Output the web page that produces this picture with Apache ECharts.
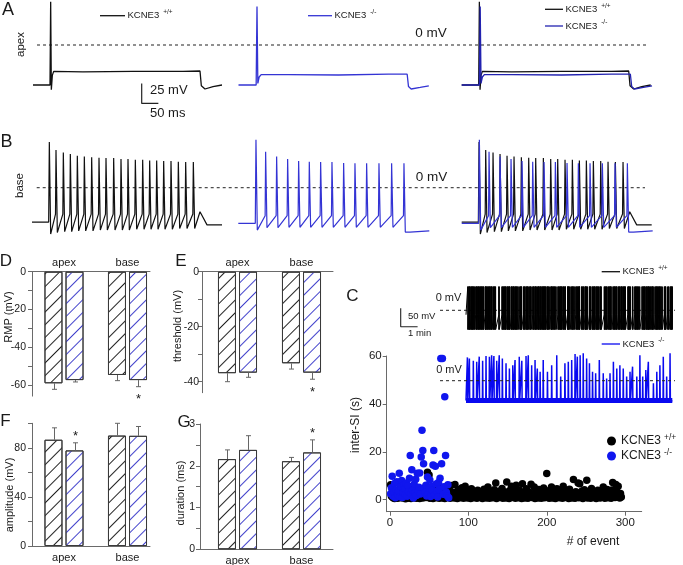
<!DOCTYPE html>
<html><head><meta charset="utf-8">
<script src="https://cdn.jsdelivr.net/npm/echarts@6.0.0/dist/echarts.min.js"></script>
<style>html,body{margin:0;padding:0;background:#fff;}#chart{width:683px;height:565px;}</style>
</head><body><div id="chart"></div>
<script>
// ======================= DATA =======================
// A – apex cells: single AP evoked by a current step (time ms, membrane potential mV)
const apexWT_t = [0, 51, 53, 55, 58, 62, 150, 300, 450, 501, 505, 516, 540, 567];
const apexWT_v = [-50, -50, 54, -56, -38, -33, -33.5, -33, -33, -32.5, -51, -55, -52, -50];
const apexKO_t = [0, 53, 55.5, 58, 62, 68, 150, 300, 450, 506, 510, 518, 545, 571];
const apexKO_v = [-50, -50, 48, -48, -40, -37, -37, -37.5, -36.5, -36.5, -52, -55, -53, -51];

// B – base cells: repetitive firing (spike times ms, peaks / troughs mV)
const baseWT_spikeT = [52, 72, 94, 115, 136, 157, 179, 201, 222, 245, 267, 288, 310, 332, 353, 374, 395, 417, 439, 461, 484];
const baseWT_peak   = [57, 47, 44, 42, 40, 39, 38, 37.5, 37, 37, 36, 36, 35, 35, 34, 34, 33.5, 33.5, 32.5, 32, 32];
const baseWT_trough = [-58, -56, -55, -55, -54, -54, -54, -53, -53, -53, -53, -53, -52, -52, -52, -52, -52, -52, -51, -51, -51];
const baseWT_rest = -43, baseWT_thr = -33;
const baseWT_tailT = [504, 525, 570], baseWT_tailV = [-30, -46.5, -46.5];
const baseKO_spikeT = [53, 82, 115, 148, 181, 213, 247, 281, 316, 350, 385, 422, 460, 497];
const baseKO_peak   = [60, 45, 39, 36, 33.5, 32.5, 32, 32, 31, 30.5, 30.5, 30.5, 30.5, 30.5];
const baseKO_trough = [-53, -50, -50, -49.5, -49.5, -49.5, -49.5, -49.5, -49.5, -49.5, -49.5, -49.5, -49.5, -55.5];
const baseKO_rest = -44.5, baseKO_thr = -35;
const baseKO_tailT = [515, 573], baseKO_tailV = [-55.5, -54];

// C – inter-spike intervals (s) per event
const wtISI = [
 6.2,1.5,3.1,0.8,2.4,0.5,4.0,1.2,2.8,0.6,3.5,1.9,0.9,5.1,2.2,0.7,3.8,1.4,2.6,0.4,
 1.8,4.4,0.6,2.9,1.1,3.3,0.5,2.0,5.6,1.3,0.8,3.0,2.1,0.6,4.2,1.6,2.7,0.5,3.6,1.0,
 2.3,0.7,4.8,1.5,3.1,0.9,2.5,11.5,1.2,10.3,0.6,2.9,1.7,3.9,0.5,2.2,1.4,4.5,0.8,2.6,
 1.1,3.4,0.6,2.0,5.2,1.3,0.7,3.2,2.4,0.5,1.8,4.1,0.9,2.7,1.5,3.6,0.6,5.9,2.2,1.0,
 3.0,0.7,6.4,1.9,2.8,0.5,4.3,1.2,3.5,0.8,2.1,5.0,1.6,0.6,3.2,5.6,1.1,2.5,0.7,3.9,
 1.4,2.0,0.5,4.6,2.9,1.2,0.8,3.4,1.7,2.3,0.6,4.0,1.3,2.7,0.9,3.1,1.8,0.5,2.4,4.4,
 1.0,2.6,0.7,3.7,5.3,1.5,0.6,2.9,1.9,3.3,0.8,2.1,4.2,1.2,7.0,0.5,2.8,1.6,3.5,0.9,
 2.3,1.1,4.7,0.6,2.5,1.8,3.2,0.7,7.4,1.4,2.0,0.5,3.8,1.6,5.6,0.9,2.6,1.2,3.4,0.6,
 6.0,1.7,2.9,0.8,4.1,1.3,2.2,0.5,6.7,1.9,3.0,0.7,2.4,4.6,1.1,0.6,3.3,1.5,2.7,6.5,
 0.9,2.0,1.4,5.3,0.5,3.6,1.8,2.5,0.7,4.3,1.2,2.8,0.6,3.2,1.6,4.9,0.8,2.3,1.0,10.9,
 1.5,3.7,0.6,2.6,1.9,5.3,0.7,3.1,1.3,2.2,0.5,4.0,4.6,1.7,2.9,0.8,3.5,1.1,2.4,0.6,
 5.6,1.4,2.7,0.9,3.8,1.6,2.1,0.5,4.4,1.2,3.0,0.7,2.5,8.4,1.8,0.6,3.3,1.3,2.8,7.0,
 0.8,6.7,2.2,1.5,3.6,0.5,2.0,4.2,1.1,2.9,8.1,0.7,3.4,1.7,2.3,0.6,4.7,1.2,2.6,0.9,
 3.1,1.9,0.5,2.7,4.0,1.4,3.5,0.7,2.2,1.0,3.8,5.3,1.6,0.6,2.9,1.3,4.3,0.8,2.4,1.8,
 3.2,0.6,4.1,7.2,1.5,2.7,0.9,6.4,3.6,1.2,5.6,2.0,0.7,2.6,1.1];
const koISI = [
 2.5,5.0,9.8,1.5,3.2,6.8,0.8,4.1,7.5,2.0,3.6,11.0,1.2,5.5,8.0,0.9,3.0,6.2,4.5,2.2,
 7.0,1.4,5.8,3.3,9.0,18.5,2.6,12.5,4.0,0.7,6.5,2.9,8.5,1.8,11.0,3.7,5.2,11.2,2.4,17.8,
 29.0,20.5,15.0,4.6,3.0,6.0,1.6,9.5,2.7,4.8,8.2,1.3,5.5,3.9,14.5,20.5,2.0,14.0,6.6,3.5,
 1.1,7.2,4.3,9.0,59.0,15.0,59.0,2.3,5.4,43.0,18.5,3.1,1.7,6.3,0.8];

// C – KCNE3-/- example trace: spike times (s) and peak potentials (mV)
const koTraceSpikeT = [5,12,26,38,47,59,71,83,91,99,109,118,129,142,154,166,174,189,198,213,221,233,245,253,263,274,289,304,322,336,351,363,375,387,395,405,416,428,438,449,460,473,487,499,511,523,535,546,558,570,582,591,606,617,627,638,647,665,677,688,700,712,724];
const koTraceSpikePeak = [63,60,54,51,65,54,67,65,69,67,54,69,60,47,33,42,56,65,54,67,69,42,56,33,24,56,24,42,69,11,47,51,56,72,65,69,74,60,47,24,20,56,20,6,20,51,33,42,33,11,24,38,11,69,11,29,51,-7,24,42,65,11,74];
const cWT_peak = 64, cWT_trough = -52, cWT_thr = -12, cKO_rest = -53.5;

// D–G – mean ± SEM (categories apex / base)
const barCats = ['apex', 'base'];
const rmpWT = [-59.2, -54.8], rmpWT_err = [3.2, 3.0];
const rmpKO = [-57.5, -57.5], rmpKO_err = [1.0, 3.5];
const rmpSig = [false, true];
const thrWT = [-36.9, -33.3], thrWT_err = [3.1, 2.1];
const thrKO = [-36.7, -36.7], thrKO_err = [1.7, 2.4];
const thrSig = [false, true];
const ampWT = [86.6, 90.0], ampWT_err = [9.7, 10.0];
const ampKO = [77.9, 89.8], ampKO_err = [6.2, 7.6];
const ampSig = [true, false];
const durWT = [2.16, 2.11], durWT_err = [0.22, 0.09];
const durKO = [2.38, 2.32], durKO_err = [0.34, 0.30];
const durSig = [false, true];

// ======================= LAYOUT / STYLE =======================
const FONT = '"Liberation Sans", Arial, Helvetica, sans-serif';
const TXT = '#1a1a1a', AXIS = '#6a6a6a';
const BLACK = '#111', BLUE_TR = '#3434d4', BLUE_C = '#0a0af0', BLUE_SC = '#1016ee';
const MS_PER_PX = 3, MV_PER_PX = 1.25;           // A/B: 50 ms = 16.7 px, 25 mV = 20 px
const A_OFF_PX = [33, 238.5, 461.7], B_OFF_PX = [32, 238.3, 461.7];
const A_DASH_PX = [37, 647], B_DASH_PX = [36.7, 645];
const C_START = 466, C_W = 206.3, C_MV_PER_PX = 50 / 18.5;   // trace starts at x=466
const C_GRID_L = 395, C_GRID_R = 680;
const cDur = wtISI.reduce((a, b) => a + b, 0);
const C_S_PER_PX = cDur / C_W;
const cX = px => (px - C_START) * C_S_PER_PX;
const E_LEFT = 202, G_LEFT = 200;

function shifted(t, v, offPx) { return t.map((ti, i) => [ti + offPx * MS_PER_PX, v[i]]); }
function train(spT, pk, tr, rest, thr, tailT, tailV, offPx) {
  const o = offPx * MS_PER_PX, d = [[o, rest]];
  spT.forEach((s, i) => { d.push([o + s - (i ? 1.5 : 2), i ? thr : rest], [o + s, pk[i]], [o + s + 4, tr[i]]); });
  tailT.forEach((t, i) => d.push([o + t, tailV[i]]));
  return d;
}
function lineS(g, data, color, width, extra) {
  return Object.assign({ type: 'line', xAxisIndex: g, yAxisIndex: g, data, symbol: 'none', silent: true,
    animation: false, lineStyle: { color, width }, z: 3 }, extra || {});
}
function dashS(g, x0, x1, z) {
  return lineS(g, [[x0, 0], [x1, 0]], '#222', 1, { lineStyle: { color: '#222', width: 1, type: [3, 3] }, z });
}

// C traces
let tc = 0; const cWTdata = [[0, cWT_thr]];
wtISI.forEach(isi => { tc += isi; cWTdata.push([tc - 0.12, cWT_thr], [tc, cWT_peak], [tc + 0.3, cWT_trough]); });
const cKOdata = [[0, cKO_rest]];
koTraceSpikeT.forEach((s, i) => { cKOdata.push([s - 0.8, cKO_rest], [s, koTraceSpikePeak[i]], [s + 1.2, cKO_rest - 4], [s + 2.5, cKO_rest]); });
cKOdata.push([cDur, cKO_rest]);

// Bars
function barPair(g, wt, ko) {
  const mk = (name, vals, hatch) => ({ type: 'bar', name, xAxisIndex: g, yAxisIndex: g, barWidth: 18, barGap: '17%',
    data: vals.map((v, i) => [i, v]), silent: true, animation: false, z: 2,
    itemStyle: { color: '#fff', borderColor: '#3a3a3a', borderWidth: 1,
      decal: { symbol: 'rect', symbolSize: 1, color: hatch, dashArrayX: [1, 0], dashArrayY: [1, 8], rotation: -Math.PI / 4 } } });
  return [mk('wt' + g, wt, '#222'), mk('ko' + g, ko, '#4242cc')];
}
function errS(g, means, errs, sig, offPx) {
  return { type: 'custom', xAxisIndex: g, yAxisIndex: g, silent: true, animation: false, z: 4,
    data: means.map((m, i) => [i, m, errs[i], sig[i] ? 1 : 0]),
    renderItem(params, api) {
      const x = api.value(0), m = api.value(1), e = api.value(2), s = api.value(3);
      const dir = m < 0 ? -1 : 1;
      const a = api.coord([x, m]), b = api.coord([x, m + dir * e]);
      const cx = Math.round(a[0] + offPx) + 0.5;
      const ch = [
        { type: 'line', shape: { x1: cx, y1: a[1], x2: cx, y2: b[1] }, style: { stroke: '#666', lineWidth: 1 } },
        { type: 'line', shape: { x1: cx - 2.5, y1: b[1], x2: cx + 2.5, y2: b[1] }, style: { stroke: '#666', lineWidth: 1 } }];
      if (s) {
        const sy = b[1] + (dir < 0 ? 10 : -9) + 3;
        ch.push({ type: 'text', x: cx, y: sy, style: { text: '*', fill: TXT, font: '13px ' + FONT, align: 'center', verticalAlign: 'middle' } });
      }
      return { type: 'group', children: ch };
    } };
}

const hiddenAxis = (g, min, max) => ({ type: 'value', gridIndex: g, min, max, show: false });
function barX(g, min, max, pos, margin) {
  return { type: 'value', gridIndex: g, min, max, position: pos,
    axisLine: { show: true, onZero: false, lineStyle: { color: AXIS, width: 1 } }, axisTick: { show: false },
    splitLine: { show: false },
    axisLabel: { customValues: [0, 1], formatter: v => barCats[v], margin, fontSize: 11, color: TXT, fontFamily: FONT } };
}
function barY(g, min, max, ticks, labels, margin) {
  return { type: 'value', gridIndex: g, min, max,
    axisLine: { show: true, onZero: false, lineStyle: { color: AXIS, width: 1 } },
    axisTick: { show: true, customValues: ticks, length: 4, lineStyle: { color: AXIS } },
    splitLine: { show: false },
    axisLabel: { customValues: labels, margin: margin || 6, fontSize: 10.5, color: TXT, fontFamily: FONT } };
}

function txt(x, y, text, size, extra) {
  const e = { type: 'text', x, y, silent: true, z: 100,
    style: { text, fill: TXT, font: size + 'px ' + FONT, align: 'center', verticalAlign: 'middle' } };
  if (extra) { if (extra.style) Object.assign(e.style, extra.style); if (extra.rotation) e.rotation = extra.rotation; }
  return e;
}
function legendItem(x1, x2, y, color, sup, size) {
  return [
    { type: 'line', silent: true, z: 100, shape: { x1, y1: y, x2, y2: y }, style: { stroke: color, lineWidth: 1.3 } },
    { type: 'text', x: x2 + 2.5, y, silent: true, z: 100,
      style: { text: '{a|KCNE3}{s|' + sup + '}', align: 'left', verticalAlign: 'middle',
        rich: { a: { fontSize: size, fontFamily: FONT, fill: TXT, lineHeight: 14 },
                s: { fontSize: 6.5, fontFamily: FONT, fill: TXT, lineHeight: 14, verticalAlign: 'top', padding: [0, 0, 0, 4] } } } }];
}

const series = [
  // Row A
  dashS(0, A_DASH_PX[0] * MS_PER_PX, A_DASH_PX[1] * MS_PER_PX, 1),
  lineS(0, shifted(apexWT_t, apexWT_v, A_OFF_PX[0]), BLACK, 1.3),
  lineS(0, shifted(apexKO_t, apexKO_v, A_OFF_PX[1]), BLUE_TR, 1.3),
  lineS(0, shifted(apexWT_t, apexWT_v, A_OFF_PX[2]), BLACK, 1.3),
  lineS(0, shifted(apexKO_t, apexKO_v, A_OFF_PX[2]), '#2222b0', 1.3),
  lineS(0, [[141.7 * MS_PER_PX, -48], [141.7 * MS_PER_PX, -48 - 25], [141.7 * MS_PER_PX + 50, -48 - 25]], '#222', 1.2),
  // Row B
  dashS(1, B_DASH_PX[0] * MS_PER_PX, B_DASH_PX[1] * MS_PER_PX, 1),
  lineS(1, train(baseWT_spikeT, baseWT_peak, baseWT_trough, baseWT_rest, baseWT_thr, baseWT_tailT, baseWT_tailV, B_OFF_PX[0]), BLACK, 1.2),
  lineS(1, train(baseKO_spikeT, baseKO_peak, baseKO_trough, baseKO_rest, baseKO_thr, baseKO_tailT, baseKO_tailV, B_OFF_PX[1]), BLUE_TR, 1.2),
  lineS(1, train(baseWT_spikeT, baseWT_peak, baseWT_trough, baseWT_rest, baseWT_thr, baseWT_tailT, baseWT_tailV, B_OFF_PX[2]), BLACK, 1.2),
  lineS(1, train(baseKO_spikeT, baseKO_peak, baseKO_trough, baseKO_rest, baseKO_thr, baseKO_tailT, baseKO_tailV, B_OFF_PX[2]), BLUE_TR, 1.2),
  // Row C traces
  dashS(2, cX(440), cX(675), 1),
  lineS(2, cWTdata, '#000', 1, { z: 3 }),
  lineS(2, [[cX(400.7), 5.4], [cX(400.7), 5.4 - 50], [cX(400.7) + 60, 5.4 - 50]], '#222', 1.1),
  lineS(3, [[0, cKO_rest], [cDur, cKO_rest]], BLUE_C, 5, { z: 2 }),
  lineS(3, cKOdata, BLUE_C, 1.5, { z: 3 }),
  dashS(3, cX(440), cX(675), 5),
  // D–G bars
  ...barPair(4, rmpWT, rmpKO), errS(4, rmpWT, rmpWT_err, [false, false], -10.5), errS(4, rmpKO, rmpKO_err, rmpSig, 10.5),
  ...barPair(5, thrWT, thrKO), errS(5, thrWT, thrWT_err, [false, false], -10.5), errS(5, thrKO, thrKO_err, thrSig, 10.5),
  ...barPair(6, ampWT, ampKO), errS(6, ampWT, ampWT_err, [false, false], -10.5), errS(6, ampKO, ampKO_err, ampSig, 10.5),
  ...barPair(7, durWT, durKO), errS(7, durWT, durWT_err, [false, false], -10.5), errS(7, durKO, durKO_err, durSig, 10.5),
  // C scatter
  { type: 'scatter', name: 'KCNE3 +/+', xAxisIndex: 8, yAxisIndex: 8, data: wtISI.map((v, i) => [i + 1, v]),
    symbolSize: 7.5, itemStyle: { color: '#000', opacity: 1 }, silent: true, animation: false, z: 3 },
  { type: 'scatter', name: 'KCNE3 -/-', xAxisIndex: 8, yAxisIndex: 8, data: koISI.map((v, i) => [i + 1, v]),
    symbolSize: 7.5, itemStyle: { color: BLUE_SC, opacity: 1 }, silent: true, animation: false, z: 4 }
];

const grids = [
  { left: 0, top: 0, width: 683, height: 125 },
  { left: 0, top: 130, width: 683, height: 130 },
  { left: C_GRID_L, top: 268, width: C_GRID_R - C_GRID_L, height: 72 },
  { left: C_GRID_L, top: 340, width: C_GRID_R - C_GRID_L, height: 72 },
  { left: 32, top: 271.7, width: 118, height: 124.4 },
  { left: E_LEFT, top: 271.7, width: 333 - E_LEFT, height: 121 },
  { left: 32, top: 423.3, width: 118, height: 122.7 },
  { left: G_LEFT, top: 424, width: 333 - G_LEFT, height: 125.3 },
  { left: 386.7, top: 356, width: 255, height: 155.7 }
].map(g => Object.assign({ outerBoundsMode: 'none', containLabel: false, show: false }, g));

const option = {
  animation: false,
  textStyle: { fontFamily: FONT },
  grid: grids,
  xAxis: [
    hiddenAxis(0, 0, 683 * MS_PER_PX), hiddenAxis(1, 0, 683 * MS_PER_PX),
    hiddenAxis(2, cX(C_GRID_L), cX(C_GRID_R)), hiddenAxis(3, cX(C_GRID_L), cX(C_GRID_R)),
    barX(4, (32 - 64) / 63.5, (150 - 64) / 63.5, 'top', 3),
    barX(5, (E_LEFT - 237.5) / 64, (333 - 237.5) / 64, 'top', 3),
    barX(6, (32 - 64) / 63.5, (150 - 64) / 63.5, 'bottom', 6),
    barX(7, (G_LEFT - 237.5) / 64, (333 - 237.5) / 64, 'bottom', 6),
    { type: 'value', gridIndex: 8, min: -4, max: 321,
      axisLine: { show: true, onZero: false, lineStyle: { color: AXIS } },
      axisTick: { show: true, customValues: [0, 100, 200, 300], length: 4, lineStyle: { color: AXIS } },
      axisLabel: { customValues: [0, 100, 200, 300], margin: 5, fontSize: 11.5, color: TXT, fontFamily: FONT },
      splitLine: { show: false } }
  ],
  yAxis: [
    hiddenAxis(0, -(125 - 45) * MV_PER_PX, 45 * MV_PER_PX),
    hiddenAxis(1, -(260 - 187.7) * MV_PER_PX, (187.7 - 130) * MV_PER_PX),
    hiddenAxis(2, -(340 - 310.3) * C_MV_PER_PX, (310.3 - 268) * C_MV_PER_PX),
    hiddenAxis(3, -(412 - 380.7) * C_MV_PER_PX, (380.7 - 340) * C_MV_PER_PX),
    barY(4, -66, 0, [-60, -50, -40, -30, -20, -10, 0], [-60, -40, -20, 0], 6),
    barY(5, -44, 0, [-40, -30, -20, -10, 0], [-40, -20, 0], 3),
    barY(6, 0, 100, [0, 20, 40, 60, 80, 100], [0, 40, 80], 6),
    barY(7, 0, 3, [0, 0.5, 1, 1.5, 2, 2.5, 3], [0, 1, 2, 3], 5),
    { type: 'value', gridIndex: 8, min: -5, max: 60,
      axisLine: { show: true, onZero: false, lineStyle: { color: AXIS } },
      axisTick: { show: true, customValues: [0, 20, 40, 60], length: 4, lineStyle: { color: AXIS } },
      axisLabel: { customValues: [0, 20, 40, 60], margin: 5, fontSize: 11.5, color: TXT, fontFamily: FONT },
      splitLine: { show: false } }
  ],
  legend: {
    data: [{ name: 'KCNE3 +/+', icon: 'circle' }, { name: 'KCNE3 -/-', icon: 'circle' }],
    orient: 'vertical', left: 607, top: 433, itemWidth: 9, itemHeight: 9, itemGap: 1, padding: 0,
    selectedMode: false,
    formatter: n => '{a|KCNE3}{s|' + n.split(' ')[1] + '}',
    textStyle: { rich: {
      a: { fontSize: 12, fontFamily: FONT, color: TXT, lineHeight: 16 },
      s: { fontSize: 8.5, fontFamily: FONT, color: TXT, lineHeight: 16, verticalAlign: 'top', padding: [0, 0, 0, 3] } } }
  },
  series,
  graphic: { elements: [
    txt(8, 10, 'A', 18), txt(6.5, 142, 'B', 18), txt(352.5, 296, 'C', 17),
    txt(6, 261, 'D', 17), txt(181, 261, 'E', 17), txt(5.5, 421, 'F', 17), txt(184, 422, 'G', 17),
    txt(21, 44.5, 'apex', 11.5, { rotation: Math.PI / 2 }),
    txt(20, 185.5, 'base', 11.5, { rotation: Math.PI / 2 }),
    txt(431, 33.5, '0 mV', 13.5), txt(431.5, 177, '0 mV', 13.5),
    txt(448.5, 298, '0 mV', 11), txt(449, 369.5, '0 mV', 11),
    txt(150, 90, '25 mV', 13, { style: { align: 'left' } }),
    txt(150, 113, '50 ms', 13, { style: { align: 'left' } }),
    txt(408, 316.7, '50 mV', 9.5, { style: { align: 'left' } }),
    txt(408, 333, '1 min', 9.5, { style: { align: 'left' } }),
    txt(9, 317, 'RMP (mV)', 11, { rotation: Math.PI / 2 }),
    txt(178, 326, 'threshold (mV)', 11, { rotation: Math.PI / 2 }),
    txt(9.5, 495, 'amplitude (mV)', 11, { rotation: Math.PI / 2 }),
    txt(181, 493, 'duration (ms)', 11, { rotation: Math.PI / 2 }),
    txt(356, 425, 'inter-SI (s)', 12, { rotation: Math.PI / 2 }),
    txt(593, 541.7, '# of event', 12),
    ...legendItem(100, 125, 15.7, BLACK, '+/+', 9.5),
    ...legendItem(308, 332, 15.7, BLUE_TR, '-/-', 9.5),
    ...legendItem(545, 563, 9.3, BLACK, '+/+', 9.5),
    ...legendItem(545, 563, 26, '#2222b0', '-/-', 9.5),
    ...legendItem(601.7, 620, 271.7, BLACK, '+/+', 9.5),
    ...legendItem(601.7, 620, 344, BLUE_C, '-/-', 9.5)
  ] }
};

const chart = echarts.init(document.getElementById('chart'), null, { renderer: 'canvas' });
chart.setOption(option);
</script></body></html>
